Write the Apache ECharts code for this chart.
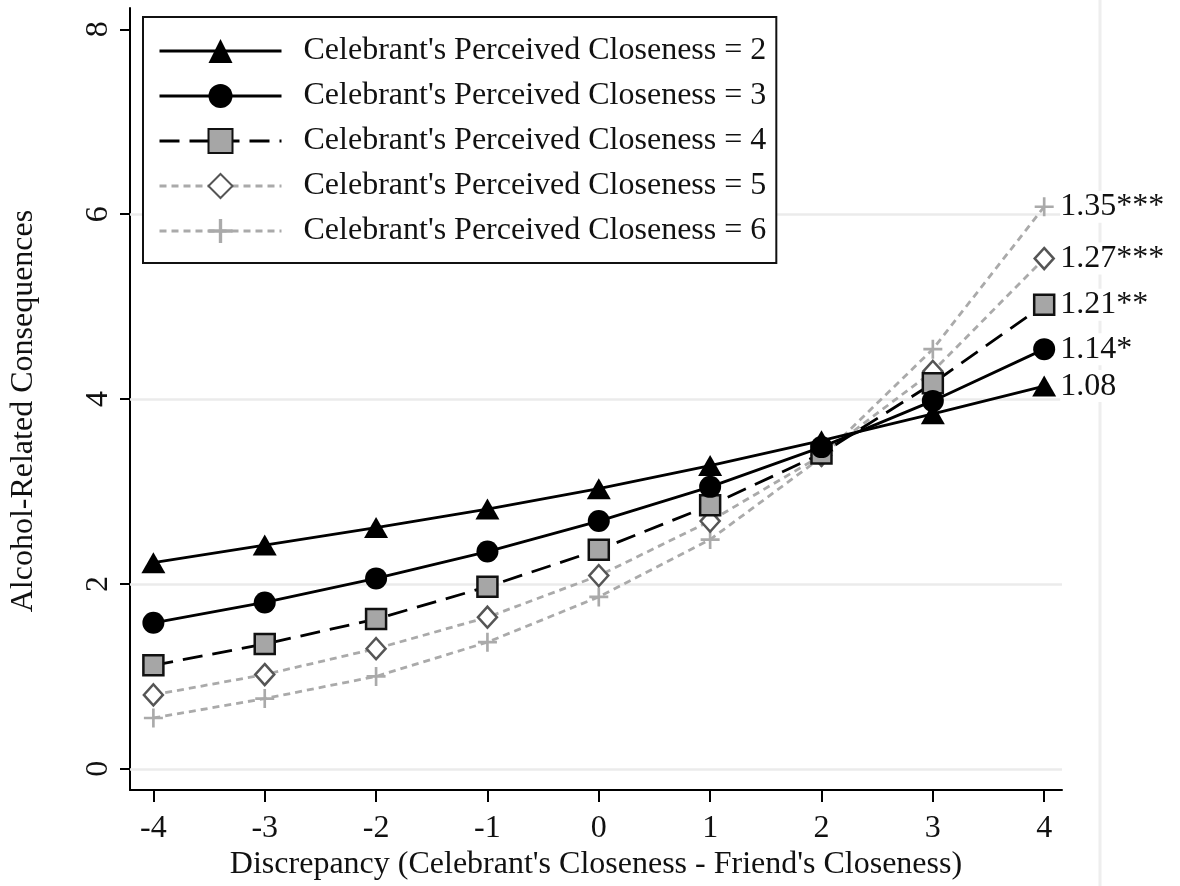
<!DOCTYPE html>
<html>
<head>
<meta charset="utf-8">
<script src="https://cdn.jsdelivr.net/npm/echarts@6/dist/echarts.min.js"></script>
<style>html,body{margin:0;padding:0;background:#fff;}#c{width:1180px;height:886px;}</style>
</head>
<body>
<div id="c"></div>
<script>
const xVals = [-4, -3, -2, -1, 0, 1, 2, 3, 4];
const c2 = [2.23, 2.42, 2.61, 2.81, 3.03, 3.28, 3.55, 3.84, 4.14];
const c3 = [1.58, 1.80, 2.06, 2.35, 2.68, 3.05, 3.48, 3.98, 4.54];
const c4 = [1.12, 1.35, 1.62, 1.97, 2.37, 2.85, 3.41, 4.17, 5.02];
const c5 = [0.80, 1.02, 1.30, 1.64, 2.09, 2.68, 3.39, 4.30, 5.52];
const c6 = [0.55, 0.76, 1.00, 1.37, 1.86, 2.48, 3.37, 4.54, 6.08];
const seriesNames = ["Celebrant's Perceived Closeness = 2", "Celebrant's Perceived Closeness = 3",
  "Celebrant's Perceived Closeness = 4", "Celebrant's Perceived Closeness = 5", "Celebrant's Perceived Closeness = 6"];
const endLabels = ['1.08', '1.14*', '1.21**', '1.27***', '1.35***'];
const xTicks = [-4, -3, -2, -1, 0, 1, 2, 3, 4];
const yTicks = [0, 2, 4, 6, 8];
const yGrid = [0, 2, 4, 6];

const FONT = '"Liberation Serif", "DejaVu Serif", serif';
const FS = 32;
const plusPath = 'path://M8.6,0H11.4V8.6H20V11.4H11.4V20H8.6V11.4H0V8.6H8.6Z';

const styles = [
  {symbol: 'triangle', size: [24, 21], item: {color: '#000'}, line: {color: '#000', width: 2.8, type: 'solid'}},
  {symbol: 'circle', size: 22, item: {color: '#000'}, line: {color: '#000', width: 2.8, type: 'solid'}},
  {symbol: 'rect', size: 20, item: {color: '#a6a6a6', borderColor: '#111', borderWidth: 2.5}, line: {color: '#000', width: 2.8, type: [20, 10]}},
  {symbol: 'diamond', size: [19, 21], item: {color: '#fff', borderColor: '#555', borderWidth: 2.5}, line: {color: '#aaaaaa', width: 2.8, type: [7, 5]}},
  {symbol: plusPath, size: 19, item: {color: '#aaaaaa'}, line: {color: '#aaaaaa', width: 2.8, type: [7, 5]}}
];
const dataSets = [c2, c3, c4, c5, c6];

const series = dataSets.map((vals, i) => ({
  name: seriesNames[i],
  type: 'line',
  z: 10 - i,
  data: xVals.map((x, k) => [x, vals[k]]),
  symbol: styles[i].symbol,
  symbolSize: styles[i].size,
  showAllSymbol: true,
  itemStyle: styles[i].item,
  lineStyle: styles[i].line,
  endLabel: {
    show: true, formatter: endLabels[i], distance: 16,
    fontFamily: FONT, fontSize: FS, color: '#111', backgroundColor: '#fff'
  },
  emphasis: {disabled: true}
}));

series.push({
  type: 'line', data: [], silent: true, z: 1,
  markLine: {
    silent: true, symbol: ['none', 'none'], label: {show: false},
    lineStyle: {color: '#ebebeb', width: 2.5, type: 'solid'},
    data: yGrid.map(v => ({yAxis: v}))
  }
});

const chart = echarts.init(document.getElementById('c'), null, {renderer: 'canvas'});
chart.setOption({
  animation: false,
  backgroundColor: '#fff',
  grid: {left: 130, right: 118, top: 8, bottom: 95},
  xAxis: {
    type: 'value', min: -4.21, max: 4.16,
    name: "Discrepancy (Celebrant's Closeness - Friend's Closeness)",
    nameLocation: 'middle', nameGap: 58,
    nameTextStyle: {fontFamily: FONT, fontSize: FS, color: '#111'},
    axisLine: {show: true, onZero: false, lineStyle: {color: '#000', width: 2}},
    axisTick: {show: true, length: 12, customValues: xTicks, lineStyle: {color: '#000', width: 2}},
    axisLabel: {customValues: xTicks, fontFamily: FONT, fontSize: FS, color: '#111', margin: 22},
    splitLine: {show: false}
  },
  yAxis: {
    type: 'value', min: -0.23, max: 8.23,
    name: 'Alcohol-Related Consequences',
    nameLocation: 'middle', nameGap: 90,
    nameTextStyle: {fontFamily: FONT, fontSize: FS, color: '#111', padding: [0, 24, 0, 0]},
    axisLine: {show: true, onZero: false, lineStyle: {color: '#000', width: 2}},
    axisTick: {show: true, length: 10, customValues: yTicks, lineStyle: {color: '#000', width: 2}},
    axisLabel: {customValues: yTicks, rotate: 90, fontFamily: FONT, fontSize: FS, color: '#111', margin: 15},
    splitLine: {show: false}
  },
  legend: {
    orient: 'vertical', left: 143, top: 17, z: 100,
    data: seriesNames,
    backgroundColor: '#fff', borderColor: '#111', borderWidth: 2, borderRadius: 0,
    padding: [18, 10, 16, 15],
    itemWidth: 122, itemHeight: 30, itemGap: 13,
    lineStyle: {width: 3},
    textStyle: {fontFamily: FONT, fontSize: FS, color: '#111', padding: [0, 0, 0, 17]},
    selectedMode: false
  },
  graphic: [{
    type: 'line', z: -1, silent: true,
    shape: {x1: 1100, y1: 0, x2: 1100, y2: 886},
    style: {stroke: '#eeeeee', lineWidth: 3}
  }],
  series: series
});
</script>
</body>
</html>
